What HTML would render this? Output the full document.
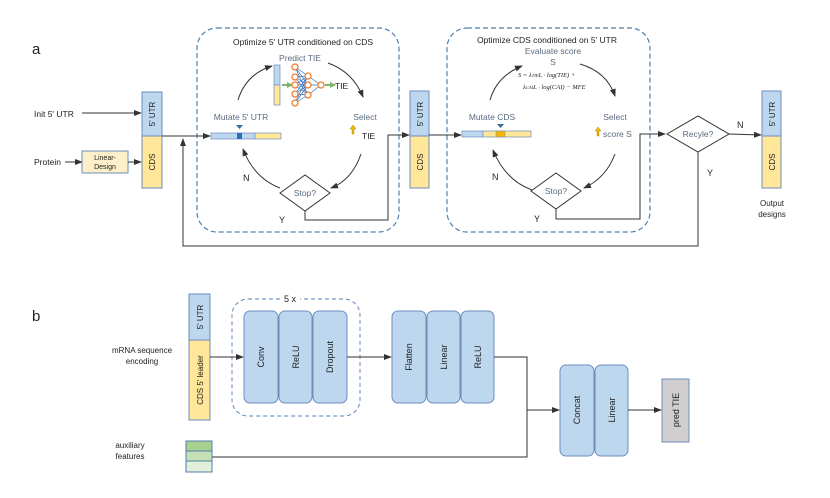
<!DOCTYPE html>
<html><head><meta charset="utf-8"><style>
html,body{margin:0;padding:0;background:#fff}
svg{display:block;font-family:"Liberation Sans",Arial,sans-serif}
</style></head><body>
<svg width="830" height="498" viewBox="0 0 830 498" xmlns="http://www.w3.org/2000/svg">
<defs>
<marker id="ah" markerWidth="8" markerHeight="6" refX="7" refY="3" orient="auto" markerUnits="userSpaceOnUse"><path d="M0,0 L8,3 L0,6 Z" fill="#333"/></marker>
<marker id="ga" markerWidth="6" markerHeight="6" refX="5" refY="3" orient="auto" markerUnits="userSpaceOnUse"><path d="M0,0 L6,3 L0,6 Z" fill="#7fb36a"/></marker>
</defs>
<g font-size="9" fill="#222">
<text x="32" y="54" font-size="15">a</text>
<text x="32" y="321" font-size="15">b</text>

<rect x="197" y="28" width="202" height="204" rx="20" fill="none" stroke="#4f7fb0" stroke-width="1.2" stroke-dasharray="5,3"/>
<rect x="447" y="28" width="203" height="204" rx="20" fill="none" stroke="#4f7fb0" stroke-width="1.2" stroke-dasharray="5,3"/>
<text x="303" y="45" text-anchor="middle" font-size="8.5">Optimize 5' UTR conditioned on CDS</text>
<text x="547" y="43" text-anchor="middle" font-size="8.5">Optimize CDS conditioned on 5' UTR</text>

<text x="34" y="117" font-size="8.5">Init 5' UTR</text>
<line x1="82" y1="113" x2="141" y2="113" stroke="#333" marker-end="url(#ah)"/>
<text x="34" y="165" font-size="8.5">Protein</text>
<line x1="65" y1="162" x2="82" y2="162" stroke="#333" marker-end="url(#ah)"/>
<rect x="82" y="151" width="46" height="22" fill="#fdf0c8" stroke="#6c8ebf"/>
<text x="105" y="160" text-anchor="middle" font-size="7">Linear-</text>
<text x="105" y="169" text-anchor="middle" font-size="7">Design</text>
<line x1="128" y1="162" x2="141" y2="162" stroke="#333" marker-end="url(#ah)"/>

<g stroke="#6c8ebf">
<rect x="142" y="92" width="20" height="44" fill="#bdd7ee"/><rect x="142" y="136" width="20" height="52" fill="#ffe699"/>
<rect x="410" y="91" width="19" height="45" fill="#bdd7ee"/><rect x="410" y="136" width="19" height="52" fill="#ffe699"/>
<rect x="762" y="91" width="19" height="45" fill="#bdd7ee"/><rect x="762" y="136" width="19" height="52" fill="#ffe699"/>
</g>
<g font-size="8" text-anchor="middle">
<text transform="translate(155,114) rotate(-90)">5' UTR</text><text transform="translate(155,162) rotate(-90)">CDS</text>
<text transform="translate(423,114) rotate(-90)">5' UTR</text><text transform="translate(423,162) rotate(-90)">CDS</text>
<text transform="translate(775,114) rotate(-90)">5' UTR</text><text transform="translate(775,162) rotate(-90)">CDS</text>
</g>

<line x1="162" y1="136" x2="210" y2="136" stroke="#333" marker-end="url(#ah)"/>
<polyline points="698,152 698,246 183,246 183,140" fill="none" stroke="#333"/>
<path d="M180,146 L183,138 L186,146Z" fill="#333"/>

<text x="300" y="61" text-anchor="middle" fill="#5a6b80" font-size="8.5">Predict TIE</text>
<rect x="274" y="65" width="6" height="20" fill="#bdd7ee" stroke="#6c8ebf" stroke-width=".7"/>
<rect x="274" y="85" width="6" height="20" fill="#ffe699" stroke="#6c8ebf" stroke-width=".7"/>
<line x1="282" y1="85" x2="292" y2="85" stroke="#7fb36a" stroke-width="2" marker-end="url(#ga)"/>
<g stroke="#2f75c4" stroke-width=".7">
<path d="M295,67L308,76M295,67L308,85M295,67L308,95M295,77L308,76M295,77L308,85M295,77L308,95M295,85L308,76M295,85L308,85M295,85L308,95M295,94L308,76M295,94L308,85M295,94L308,95M295,103L308,76M295,103L308,85M295,103L308,95M308,76L321,85M308,85L321,85M308,95L321,85"/>
</g>
<g fill="#fff" stroke="#ed7d31" stroke-width="1.3">
<circle cx="295" cy="67" r="3"/><circle cx="295" cy="77" r="3"/><circle cx="295" cy="85" r="3"/><circle cx="295" cy="94" r="3"/><circle cx="295" cy="103" r="3"/>
<circle cx="308" cy="76" r="3"/><circle cx="308" cy="85" r="3"/><circle cx="308" cy="95" r="3"/><circle cx="321" cy="85" r="3"/>
</g>
<line x1="325" y1="85" x2="335" y2="85" stroke="#7fb36a" stroke-width="2" marker-end="url(#ga)"/>
<text x="335" y="89" font-size="8.5">TIE</text>

<text x="241" y="120" text-anchor="middle" fill="#5a6b80" font-size="8.5">Mutate 5' UTR</text>
<rect x="211" y="133" width="44" height="6" fill="#bdd7ee" stroke="#6c8ebf" stroke-width=".7"/>
<rect x="255" y="133" width="26" height="6" fill="#ffe699" stroke="#6c8ebf" stroke-width=".7"/>
<rect x="237" y="133" width="5" height="6" fill="#2e6db4"/>
<path d="M236,125 L243,125 L239.5,129Z" fill="#3b6b9a"/>
<text x="365" y="120" text-anchor="middle" fill="#5a6b80" font-size="8.5">Select</text>
<path d="M352,134 L352,129 L350,129 L353,125 L356,129 L354,129 L354,134Z" fill="#f2b705" stroke="#a07a00" stroke-width=".4"/>
<text x="362" y="139" font-size="8.5">TIE</text>

<g fill="none" stroke="#333" stroke-width="1">
<path d="M238,100 Q246,74 272,66" marker-end="url(#ah)"/>
<path d="M328,63 Q353,72 363,97" marker-end="url(#ah)"/>
<path d="M361,154 Q352,180 331,188" marker-end="url(#ah)"/>
<path d="M280,188 Q254,178 243,149" marker-end="url(#ah)"/>
</g>
<path d="M280,193 L305,175 L330,193 L305,211Z" fill="#fff" stroke="#333"/>
<text x="305" y="196" text-anchor="middle" fill="#5a6b80" font-size="8.5">Stop?</text>
<text x="243" y="181">N</text>
<text x="279" y="223">Y</text>
<polyline points="305,211 305,220 388,220 388,135 409,135" fill="none" stroke="#333" marker-end="url(#ah)"/>

<line x1="429" y1="135" x2="461" y2="135" stroke="#333" marker-end="url(#ah)"/>
<text x="553" y="54" text-anchor="middle" fill="#5a6b80" font-size="8.5">Evaluate score</text>
<text x="553" y="65" text-anchor="middle" fill="#5a6b80" font-size="8.5">S</text>
<text x="518" y="77" font-family="Liberation Serif,serif" font-style="italic" font-size="6.5">S = λ<tspan font-size="4.5">TIE</tspan>L · log(TIE) +</text>
<text x="523" y="89" font-family="Liberation Serif,serif" font-style="italic" font-size="6.5">λ<tspan font-size="4.5">CAI</tspan>L · log(CAI) − MFE</text>
<text x="492" y="120" text-anchor="middle" fill="#5a6b80" font-size="8.5">Mutate CDS</text>
<rect x="462" y="131" width="21" height="6" fill="#bdd7ee" stroke="#6c8ebf" stroke-width=".7"/>
<rect x="483" y="131" width="48" height="6" fill="#ffe699" stroke="#6c8ebf" stroke-width=".7"/>
<rect x="496" y="131" width="9" height="6" fill="#f2b705" stroke="#6c8ebf" stroke-width=".5"/>
<path d="M497,124 L504,124 L500.5,128Z" fill="#3b6b9a"/>
<text x="615" y="120" text-anchor="middle" fill="#5a6b80" font-size="8.5">Select</text>
<path d="M597,136 L597,131 L595,131 L598,127 L601,131 L599,131 L599,136Z" fill="#f2b705" stroke="#a07a00" stroke-width=".4"/>
<text x="603" y="137" fill="#5a6b80" font-size="8.5">score S</text>
<g fill="none" stroke="#333" stroke-width="1">
<path d="M490,100 Q497,76 522,66" marker-end="url(#ah)"/>
<path d="M580,64 Q607,72 615,96" marker-end="url(#ah)"/>
<path d="M615,154 Q606,178 584,188" marker-end="url(#ah)"/>
<path d="M532,190 Q505,180 493,150" marker-end="url(#ah)"/>
</g>
<path d="M531,191 L556,173 L581,191 L556,209Z" fill="#fff" stroke="#333"/>
<text x="556" y="194" text-anchor="middle" fill="#5a6b80" font-size="8.5">Stop?</text>
<text x="492" y="180">N</text>
<text x="534" y="222">Y</text>
<polyline points="556,209 556,219 640,219 640,134 665,134" fill="none" stroke="#333" marker-end="url(#ah)"/>
<path d="M667,134 L698,116 L729,134 L698,152Z" fill="#fff" stroke="#333"/>
<text x="698" y="137" text-anchor="middle" fill="#5a6b80" font-size="8.5">Recyle?</text>
<line x1="729" y1="134" x2="761" y2="135" stroke="#333" marker-end="url(#ah)"/>
<text x="737" y="128">N</text>
<text x="707" y="176">Y</text>
<text x="772" y="206" text-anchor="middle" font-size="8">Output</text>
<text x="772" y="217" text-anchor="middle" font-size="8">designs</text>

<rect x="189" y="294" width="21" height="46" fill="#bdd7ee" stroke="#6c8ebf"/>
<rect x="189" y="340" width="21" height="80" fill="#ffe699" stroke="#6c8ebf"/>
<text transform="translate(203,317) rotate(-90)" text-anchor="middle" font-size="8">5' UTR</text>
<text transform="translate(203,380) rotate(-90)" text-anchor="middle" font-size="8">CDS 5' leader</text>
<text x="142" y="353" text-anchor="middle" font-size="8">mRNA sequence</text>
<text x="142" y="364" text-anchor="middle" font-size="8">encoding</text>
<rect x="232" y="299" width="128" height="117" rx="16" fill="none" stroke="#4f7fb0" stroke-width=".9" stroke-dasharray="4,3"/>
<rect x="280" y="294" width="20" height="10" fill="#fff"/>
<text x="290" y="302" text-anchor="middle" font-size="9">5 x</text>
<line x1="210" y1="357" x2="243" y2="357" stroke="#333" marker-end="url(#ah)"/>
<g fill="#bdd7ee" stroke="#6c8ebf">
<rect x="244" y="311" width="34" height="92" rx="6"/><rect x="279" y="311" width="33" height="92" rx="6"/><rect x="313" y="311" width="34" height="92" rx="6"/>
<rect x="392" y="311" width="34" height="92" rx="6"/><rect x="427" y="311" width="33" height="92" rx="6"/><rect x="461" y="311" width="33" height="92" rx="6"/>
<rect x="560" y="365" width="34" height="91" rx="6"/><rect x="595" y="365" width="33" height="91" rx="6"/>
</g>
<rect x="662" y="379" width="27" height="63" fill="#d0cece" stroke="#6c8ebf"/>
<g font-size="9" text-anchor="middle">
<text transform="translate(264,357) rotate(-90)">Conv</text>
<text transform="translate(299,357) rotate(-90)">ReLU</text>
<text transform="translate(333,357) rotate(-90)">Dropout</text>
<text transform="translate(412,357) rotate(-90)">Flatten</text>
<text transform="translate(447,357) rotate(-90)">Linear</text>
<text transform="translate(481,357) rotate(-90)">ReLU</text>
<text transform="translate(580,410) rotate(-90)">Concat</text>
<text transform="translate(615,410) rotate(-90)">Linear</text>
<text transform="translate(679,410) rotate(-90)">pred TIE</text>
</g>
<line x1="347" y1="357" x2="391" y2="357" stroke="#333" marker-end="url(#ah)"/>
<polyline points="494,357 527,357 527,457 212,457" fill="none" stroke="#333"/>
<line x1="527" y1="410" x2="559" y2="410" stroke="#333" marker-end="url(#ah)"/>
<line x1="628" y1="410" x2="661" y2="410" stroke="#333" marker-end="url(#ah)"/>
<rect x="186" y="441" width="26" height="10" fill="#a9d18e" stroke="#4f7fb0"/>
<rect x="186" y="451" width="26" height="10" fill="#c5e0b4" stroke="#4f7fb0"/>
<rect x="186" y="461" width="26" height="11" fill="#e2f0d9" stroke="#4f7fb0"/>
<text x="130" y="448" text-anchor="middle" font-size="8">auxiliary</text>
<text x="130" y="459" text-anchor="middle" font-size="8">features</text>
</g>
</svg>
</body></html>
